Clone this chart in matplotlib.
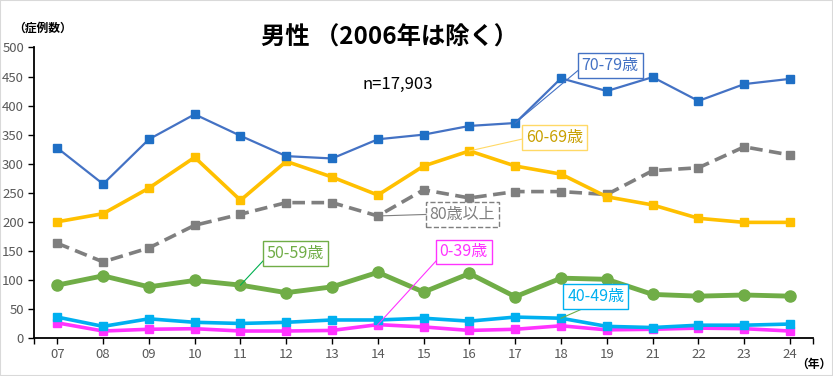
import matplotlib
matplotlib.use("Agg")
import matplotlib.pyplot as plt
from matplotlib.patches import Rectangle

plt.rcParams['font.family'] = ['Noto Sans CJK JP', 'DejaVu Sans']

# data
years = ['07', '08', '09', '10', '11', '12', '13', '14', '15', '16',
         '17', '18', '19', '21', '22', '23', '24']
age_70_79 = [327, 265, 342, 385, 348, 313, 309, 342, 350, 365, 370, 447, 425, 449, 408, 437, 446]
age_60_69 = [200, 214, 258, 311, 237, 304, 277, 246, 296, 322, 296, 282, 243, 229, 206, 199, 199]
age_80up = [163, 131, 155, 194, 213, 233, 233, 210, 255, 241, 252, 252, 247, 288, 293, 329, 315]
age_50_59 = [91, 107, 88, 99, 91, 78, 88, 113, 79, 111, 71, 103, 101, 75, 72, 74, 72]
age_40_49 = [36, 20, 33, 27, 25, 27, 31, 31, 34, 29, 36, 34, 20, 18, 22, 22, 24]
age_0_39 = [26, 12, 15, 16, 12, 12, 13, 23, 19, 13, 15, 21, 14, 15, 17, 16, 12]

x = list(range(len(years)))

fig = plt.figure(figsize=(8.33, 3.76), dpi=100)
fig.patches.append(Rectangle((0, 0), 1, 1, transform=fig.transFigure,
                             fill=False, edgecolor='#d9d9d9', lw=1.5))
ax = fig.add_axes([0.0413, 0.1011, 0.9346, 0.7726])

ax.plot(x, age_80up, color='#7f7f7f', lw=2.6, ls=(0, (3.5, 1.8)), marker='s', ms=5.5, zorder=3)
ax.plot(x, age_60_69, color='#ffc000', lw=2.6, marker='s', ms=6, zorder=3)
ax.plot(x, age_70_79, color='#4472c4', lw=1.6, marker='s', ms=6,
        mfc='#1f6fc5', mec='#1f6fc5', zorder=4)
ax.plot(x, age_50_59, color='#70ad47', lw=3.5, marker='o', ms=8, zorder=3)
ax.plot(x, age_0_39, color='#ff33ff', lw=2.6, marker='s', ms=6, zorder=3)
ax.plot(x, age_40_49, color='#00b0f0', lw=2.6, marker='s', ms=6, zorder=4)

ax.set_xlim(-0.5, len(years) - 0.5)
ax.set_ylim(0, 500)
ax.set_yticks(range(0, 501, 50))
ax.set_xticks(x)
ax.set_xticklabels(years)
ax.set_xticks([-0.5, len(years) - 0.5], minor=True)
ax.tick_params(axis='both', which='both', direction='out', length=4, width=1,
               colors='black', labelcolor='#595959', labelsize=9.5)
for s in ['top', 'right']:
    ax.spines[s].set_visible(False)
for s in ['left', 'bottom']:
    ax.spines[s].set_linewidth(1.3)

fig.text(0.468, 0.9, '男性 （2006年は除く）', fontsize=17.5, fontweight='bold',
         ha='center', va='center')
fig.text(0.478, 0.775, 'n=17,903', fontsize=12, ha='center', va='center')
fig.text(0.016, 0.925, '（症例数）', fontsize=8.5, fontweight='bold', ha='left', va='center')
fig.text(0.956, 0.03, '（年）', fontsize=8.5, fontweight='bold', ha='left', va='center')


def callout(text, left, y, color, edge, dashed=False, ha='left'):
    ax.text(left, y, text, fontsize=11.5, color=color, ha=ha, va='center', zorder=6,
            bbox=dict(boxstyle='square,pad=0.25', fc='white', ec=edge, lw=1,
                      ls='--' if dashed else '-'))


def leader(start, point_idx, values, color):
    ax.plot([start[0], point_idx], [start[1], values[point_idx]], color=color, lw=0.8, zorder=5)


# callout boxes: text left edge (x index units) and centre y (cases)
leader((11.5, 469), 10, age_70_79, '#4472c4')
callout('70-79歳', 11.45, 469, '#4472c4', '#4472c4')
leader((10.3, 345), 9, age_60_69, '#ffd966')
callout('60-69歳', 10.23, 345, '#c9a000', '#ffd966')
leader((8.2, 213), 7, age_80up, '#7f7f7f')
callout('80歳以上', 8.13, 213, '#7f7f7f', '#7f7f7f', dashed=True)
leader((4.65, 146), 4, age_50_59, '#00b050')
callout('50-59歳', 4.57, 146, '#70ad47', '#70ad47')
leader((8.45, 148), 7, age_0_39, '#ff33ff')
callout('0-39歳', 8.35, 148, '#ff33ff', '#ff33ff')
leader((11.75, 60), 11, age_40_49, '#70ad47')
callout('40-49歳', 11.76, 72, '#00b0f0', '#00b0f0', ha='center')

fig.savefig('out.png', dpi=100)
